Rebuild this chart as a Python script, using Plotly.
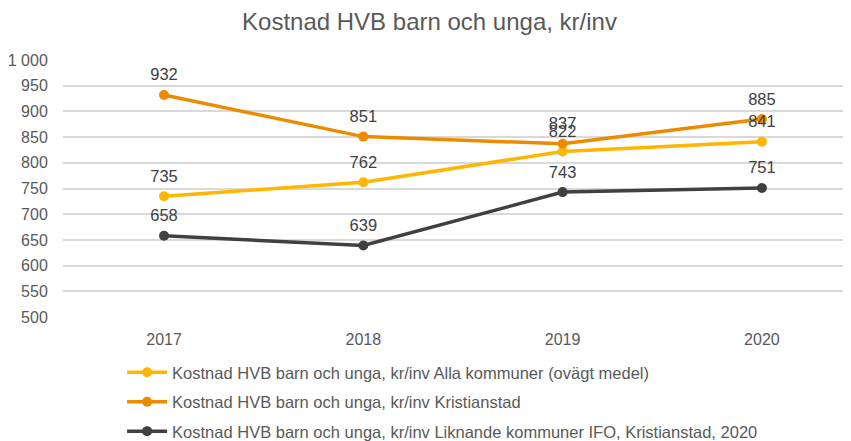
import plotly.graph_objects as go

years = ["2017", "2018", "2019", "2020"]
alla = [735, 762, 822, 841]
kristianstad = [932, 851, 837, 885]
liknande = [658, 639, 743, 751]

names = [
    "Kostnad HVB barn och unga, kr/inv Alla kommuner (ovägt medel)",
    "Kostnad HVB barn och unga, kr/inv Kristianstad",
    "Kostnad HVB barn och unga, kr/inv Liknande kommuner IFO, Kristianstad, 2020",
]
colors = ["#FFB600", "#EE8A00", "#404040"]
series = [alla, kristianstad, liknande]
FONT = "Liberation Sans, Arial"

fig = go.Figure()
for i, (name, vals, col) in enumerate(zip(names, series, colors)):
    fig.add_trace(go.Scatter(
        x=years, y=vals, name=name, mode="lines+markers",
        legendgroup=str(i),
        line=dict(color=col, width=3.5),
        marker=dict(color=col, size=10),
    ))
for vals in series:
    fig.add_trace(go.Scatter(
        x=years, y=vals, mode="markers+text", showlegend=False,
        hoverinfo="skip",
        marker=dict(size=15, opacity=0),
        text=[str(v) for v in vals], textposition="top center",
        textfont=dict(family=FONT, size=16.5, color="#404040"),
    ))

fig.update_layout(
    width=843, height=433,
    margin=dict(l=55, r=0, t=52, b=124, autoexpand=False),
    paper_bgcolor="white", plot_bgcolor="white",
    font=dict(family=FONT, color="#595959"),
    title=dict(text="Kostnad HVB barn och unga, kr/inv", x=0.5, xanchor="center",
               y=0.968, yanchor="middle",
               font=dict(size=24, color="#595959")),
    showlegend=True,
    legend=dict(x=0.075, y=0.1986, yref="container", xanchor="left", yanchor="top",
                font=dict(size=16.5, color="#595959"), itemwidth=40,
                tracegroupgap=5),
    xaxis=dict(type="category", range=[-0.507, 3.447], showgrid=False,
               showline=False, ticks="outside", ticklen=8,
               tickcolor="rgba(0,0,0,0)", automargin=False,
               tickfont=dict(size=16, color="#595959")),
    yaxis=dict(range=[500, 1000], dtick=50, showgrid=True, gridcolor="#D9D9D9",
               gridwidth=1.5, zeroline=False, ticks="outside", ticklen=11,
               tickcolor="rgba(0,0,0,0)", automargin=False,
               tickformat=",d", tickfont=dict(size=16, color="#595959")),
    separators=", ",
)

fig.write_html("out.html")
